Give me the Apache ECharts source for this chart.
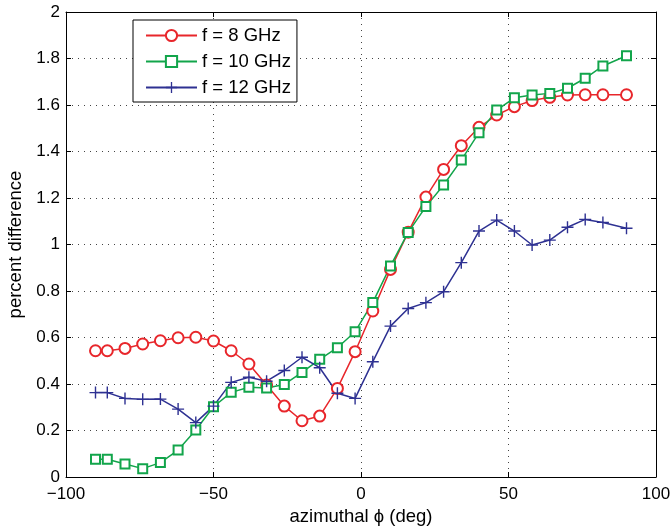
<!DOCTYPE html>
<html>
<head>
<meta charset="utf-8">
<script src="https://cdn.jsdelivr.net/npm/echarts@6/dist/echarts.min.js"></script>
<style>
  html, body { margin: 0; padding: 0; background: #fff; }
  #main { width: 672px; height: 529px; }
</style>
</head>
<body>
<div id="main"></div>
<script>
// azimuth angles (deg)
var angles = [-90, -86, -80, -74, -68, -62, -56, -50, -44, -38, -32, -26, -20, -14, -8, -2,
  4, 10, 16, 22, 28, 34, 40, 46, 52, 58, 64, 70, 76, 82, 90]
// percent difference, one list per frequency
var pd8 = [0.543, 0.543, 0.553, 0.572, 0.586, 0.599, 0.601, 0.585, 0.543, 0.486, 0.396, 0.305,
  0.242, 0.262, 0.381, 0.539, 0.714, 0.893, 1.053, 1.204, 1.323, 1.425, 1.504, 1.557, 1.593,
  1.619, 1.633, 1.643, 1.644, 1.644, 1.644]
var pd10 = [0.076, 0.076, 0.056, 0.036, 0.062, 0.116, 0.202, 0.302, 0.364, 0.386, 0.383, 0.398,
  0.450, 0.506, 0.556, 0.625, 0.751, 0.908, 1.052, 1.163, 1.256, 1.363, 1.481, 1.578, 1.631,
  1.643, 1.650, 1.672, 1.715, 1.768, 1.812]
var pd12 = [0.363, 0.363, 0.338, 0.334, 0.335, 0.292, 0.234, 0.305, 0.407, 0.429, 0.412, 0.458,
  0.515, 0.470, 0.360, 0.338, 0.496, 0.649, 0.725, 0.750, 0.797, 0.922, 1.058, 1.105, 1.058,
  0.998, 1.019, 1.074, 1.108, 1.095, 1.070]
var names = ['f = 8 GHz', 'f = 10 GHz', 'f = 12 GHz']

var font = 'Liberation Sans, Arial, Helvetica, sans-serif'
var chart = echarts.init(document.getElementById('main'), null, { renderer: 'canvas' })

function pairs(ys) {
  return angles.map(function (a, i) { return [a, ys[i]] })
}

var gridLine = { show: true, lineStyle: { color: '#444', type: [1, 5], width: 1 } }
var axisLine = { show: true, onZero: false, lineStyle: { color: '#000', width: 1 } }
var tick = { show: true, inside: true, length: 5, lineStyle: { color: '#000' } }
var plus = 'path://M5.3,0H6.7V5.3H12V6.7H6.7V12H5.3V6.7H0V5.3H5.3Z'

chart.setOption({
  animation: false,
  backgroundColor: '#fff',
  grid: { left: 66, right: 16, top: 12, bottom: 52, outerBoundsMode: 'none' },
  legend: {
    orient: 'vertical',
    left: 133,
    top: 20,
    padding: [6, 6, 5, 12],
    itemWidth: 51,
    itemHeight: 14,
    itemGap: 7,
    backgroundColor: '#fff',
    borderColor: '#000',
    borderWidth: 1,
    borderRadius: 0,
    textStyle: { fontFamily: font, fontSize: 18.5, color: '#000' },
    data: names
  },
  xAxis: [{
    type: 'value', min: -100, max: 100, interval: 50,
    name: 'azimuthal \u03d5 (deg)', nameLocation: 'middle', nameGap: 25,
    nameTextStyle: { fontFamily: font, fontSize: 18.5, color: '#000' },
    axisLine: axisLine, axisTick: tick, splitLine: gridLine,
    axisLabel: {
      margin: 9, fontFamily: font, fontSize: 17, color: '#000',
      formatter: function (v) { return String(v).replace('-', '\u2212') }
    }
  }, {
    type: 'value', min: -100, max: 100, interval: 50, position: 'top',
    axisLine: axisLine, axisTick: tick, splitLine: { show: false }, axisLabel: { show: false }
  }],
  yAxis: [{
    type: 'value', min: 0, max: 2, interval: 0.2,
    name: 'percent difference', nameLocation: 'middle', nameGap: 38,
    nameTextStyle: { fontFamily: font, fontSize: 18.5, color: '#000' },
    axisLine: axisLine, axisTick: tick, splitLine: gridLine,
    axisLabel: { margin: 6, fontFamily: font, fontSize: 17, color: '#000' }
  }, {
    type: 'value', min: 0, max: 2, interval: 0.2, position: 'right',
    axisLine: axisLine, axisTick: tick, splitLine: { show: false }, axisLabel: { show: false }
  }],
  series: [{
    name: names[0], type: 'line', data: pairs(pd8),
    symbol: 'emptyCircle', symbolSize: 11,
    lineStyle: { color: '#E8262B', width: 1.5 },
    itemStyle: { color: '#E8262B', borderColor: '#E8262B', borderWidth: 1.5 }
  }, {
    name: names[1], type: 'line', data: pairs(pd10),
    symbol: 'emptyRect', symbolSize: 9,
    lineStyle: { color: '#12A54B', width: 1.5 },
    itemStyle: { color: '#12A54B', borderColor: '#12A54B', borderWidth: 1.5 }
  }, {
    name: names[2], type: 'line', data: pairs(pd12),
    symbol: plus, symbolSize: 12,
    lineStyle: { color: '#2E3192', width: 1.5 },
    itemStyle: { color: '#2E3192', borderWidth: 0 }
  }]
})
</script>
</body>
</html>
